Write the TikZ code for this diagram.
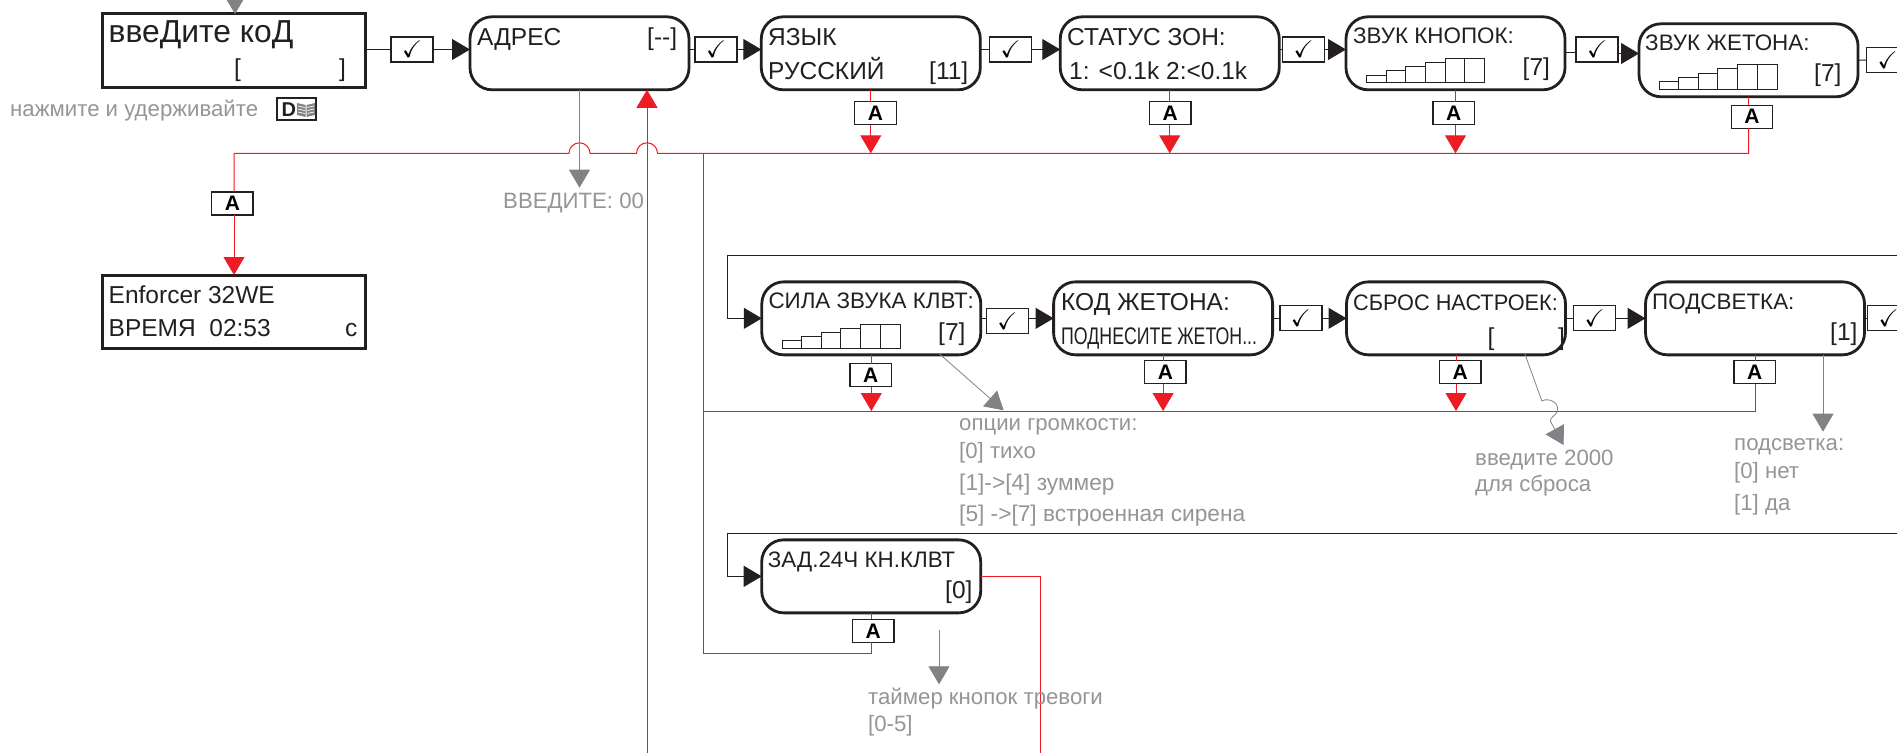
\documentclass[tikz,border=0pt]{standalone}
\usepackage{fontspec}
\usepackage{amssymb}
\setmainfont{Liberation Sans}
\newfontfamily\narrowfont[FakeStretch=0.74]{Liberation Sans}
\newfontfamily\slimfont[FakeStretch=0.97]{Liberation Sans}
\usetikzlibrary{arrows.meta}
\definecolor{ink}{HTML}{231F20}
\definecolor{alarm}{HTML}{ED1C24}
\definecolor{hint}{HTML}{939598}
\definecolor{hintline}{HTML}{808285}
\begin{document}
\begin{tikzpicture}[x=1pt, y=-1pt,
    panel/.style={draw=ink, line width=2.8pt, rounded corners=22pt, minimum width=219pt, minimum height=73pt, inner sep=0pt, outer sep=0pt},
    screen/.style={draw=ink, line width=3pt, minimum width=263pt, minimum height=73pt, inner sep=0pt, outer sep=0pt},
    okkey/.style={draw=ink, line width=1.4pt, fill=white, minimum width=42pt, minimum height=25pt, inner sep=0pt, outer sep=0pt, font=\fontsize{24}{24}\selectfont},
    akey/.style={draw=ink, line width=1.4pt, fill=white, minimum width=41.5pt, minimum height=23pt, inner sep=0pt, outer sep=0pt, font=\fontsize{21}{21}\selectfont\bfseries},
    lcd/.style={anchor=base west, inner sep=0pt, text=ink, font=\fontsize{24.5}{24.5}\selectfont},
    lcdsmall/.style={anchor=base west, inner sep=0pt, text=ink, font=\fontsize{22.4}{22.4}\selectfont},
    note/.style={anchor=base west, inner sep=0pt, text=hint, font=\fontsize{22.2}{22.2}\selectfont},
    flow/.style={draw=ink, line width=1pt},
    flowtip/.style={flow, -{Triangle[length=18pt,width=21pt,fill=ink]}},
    alarmline/.style={draw=alarm, line width=1pt},
    alarmtip/.style={alarmline, -{Triangle[length=18pt,width=21pt,fill=alarm]}},
    hinttip/.style={draw=hintline, line width=0.8pt, -{Triangle[length=18pt,width=21pt,fill=hintline]}},
    levelbars/.pic={
        \draw[ink, line width=0.8pt] (0,0) rectangle (19.6,-7.7);
        \draw[ink, line width=0.8pt] (19.6,0) rectangle (39.2,-12);
        \draw[ink, line width=0.8pt] (39.2,0) rectangle (58.8,-16.4);
        \draw[ink, line width=0.8pt] (58.8,0) rectangle (78.4,-20.4);
        \draw[ink, line width=0.8pt] (78.4,0) rectangle (98,-24.4);
        \draw[ink, line width=0.8pt] (98,0) rectangle (118,-24.4);
    }]
    \useasboundingbox (0,0) rectangle (1897,752);

    % Free ends
    \coordinate (entry) at (235,-30);
    \coordinate (busA) at (703.3,153.3);
    \coordinate (busB) at (703.3,411);
    \coordinate (busC) at (703.3,653);
    \coordinate (loopA) at (1897,255);
    \coordinate (loopB) at (727.5,255);
    \coordinate (loopC) at (1897,533.3);
    \coordinate (loopD) at (727.5,533.3);
    \coordinate (returnA) at (647,760);
    \coordinate (returnB) at (1040.7,760);
    \coordinate (hintTimer) at (939,630);
    \coordinate (hintReset) at (1524.7,353.5);
    \coordinate (hintVolume) at (939,353.5);
    \coordinate (hintLight) at (1823,354.7);

    % Top row
    \node[screen] (code) at (233.9,50.5) {};
    \node[panel] (adres) at (579.5,53.3) {};
    \node[panel] (yazyk) at (870.8,53.3) {};
    \node[panel] (status) at (1169.75,53.3) {};
    \node[panel] (knopok) at (1455.5,53.3) {};
    \node[panel] (zheton) at (1748.5,60.3) {};
    \node[screen] (enforcer) at (234,311.5) {};

    \node[okkey] (okA) at (412,49.5) {$\checkmark$};
    \node[okkey] (okB) at (716,49.5) {$\checkmark$};
    \node[okkey] (okC) at (1010.5,49.5) {$\checkmark$};
    \node[okkey] (okD) at (1303.7,49.5) {$\checkmark$};
    \node[okkey] (okE) at (1597,49.5) {$\checkmark$};
    \node[okkey] (okF) at (1887.5,60) {$\checkmark$};

    \node[akey] (aEnforcer) at (232.4,203.3) {A};
    \node[akey] (aYazyk) at (875.5,113) {A};
    \node[akey] (aStatus) at (1170.2,113) {A};
    \node[akey] (aKnopok) at (1453.7,113) {A};
    \node[akey] (aZheton) at (1752,116.7) {A};

    % Middle row
    \node[panel] (klvt) at (871.3,318.35) {};
    \node[panel] (kod) at (1163.1,318.35) {};
    \node[panel] (sbros) at (1456,318.35) {};
    \node[panel] (light) at (1755,318.35) {};

    \node[okkey] (okG) at (1007.3,320.8) {$\checkmark$};
    \node[okkey] (okH) at (1300.8,318.2) {$\checkmark$};
    \node[okkey] (okI) at (1594.7,318.2) {$\checkmark$};
    \node[okkey] (okJ) at (1888.5,318.2) {$\checkmark$};

    \node[akey] (aKlvt) at (870.8,375.2) {A};
    \node[akey] (aKod) at (1165.4,372.2) {A};
    \node[akey] (aSbros) at (1460.2,372.2) {A};
    \node[akey] (aLight) at (1754.6,372.2) {A};

    % Bottom row
    \node[panel] (zad) at (871.2,576.35) {};
    \node[akey] (aZad) at (873.2,630.8) {A};

    % Black connectors
    \draw[hinttip] (entry) -- (code.north -| entry);
    \draw[flow] (code.east |- okA) -- (okA.west);
    \draw[flowtip] (okA.east) -- (okA.east -| adres.west);
    \draw[flow] (adres.east |- okB) -- (okB.west);
    \draw[flowtip] (okB.east) -- (okB.east -| yazyk.west);
    \draw[flow] (yazyk.east |- okC) -- (okC.west);
    \draw[flowtip] (okC.east) -- (okC.east -| status.west);
    \draw[flow] (status.east |- okD) -- (okD.west);
    \draw[flowtip] (okD.east) -- (okD.east -| knopok.west);
    \draw[flow] ([yshift=-3.2pt]knopok.east |- okE) -- ([yshift=-3.2pt]okE.west);
    \draw[flowtip] ([yshift=-4pt]okE.east) -- ([yshift=-4pt]okE.east -| zheton.west);
    \draw[flow] (zheton.east) -- (okF.west);

    \draw[flowtip] (loopA) -- (loopB) |- (klvt.west);
    \draw[flow] (klvt.east) -- (klvt.east -| okG.west);
    \draw[flowtip] (klvt.east -| okG.east) -- (kod.west);
    \draw[flow] (kod.east) -- (kod.east -| okH.west);
    \draw[flowtip] (kod.east -| okH.east) -- (sbros.west);
    \draw[flow] (sbros.east) -- (sbros.east -| okI.west);
    \draw[flowtip] (sbros.east -| okI.east) -- (light.west);
    \draw[flow] (light.east) -- (light.east -| okJ.west);
    \draw[flowtip] (loopC) -- (loopD) |- (zad.west);

    % Red connectors
    \draw[alarmline] (zad.east) -- (zad.east -| returnB) -- (returnB);
    \draw[alarmline] (zad.south) -- (zad.south |- aZad.north);
    \draw[alarmline] (zad.south |- aZad.south) -- (zad.south |- busC) -- (busC) -- (busA);
    \draw[alarmline] (light.south) -- (light.south |- aLight.north);
    \draw[alarmline] (light.south |- aLight.south) -- (light.south |- busB) -- (busB);
    \draw[alarmtip] (returnA) -- (returnA |- adres.south);
    \draw[alarmline] (zheton.south) -- (zheton.south |- aZheton.north);
    \draw[alarmline] (zheton.south |- aZheton.south) -- (zheton.south |- busA) -- (657.5,153.3) arc[start angle=0, end angle=-180, radius=10.5] -- (590,153.3) arc[start angle=0, end angle=-180, radius=10.5] -- (enforcer.north |- busA) -- (enforcer.north |- aEnforcer.north);
    \draw[alarmtip] (enforcer.north |- aEnforcer.south) -- (enforcer.north);

    \draw[alarmline] (yazyk.south) -- (yazyk.south |- aYazyk.north);
    \draw[alarmtip] (yazyk.south |- aYazyk.south) -- (yazyk.south |- busA);
    \draw[alarmline] (status.south) -- (status.south |- aStatus.north);
    \draw[alarmtip] (status.south |- aStatus.south) -- (status.south |- busA);
    \draw[alarmline] (knopok.south) -- (knopok.south |- aKnopok.north);
    \draw[alarmtip] (knopok.south |- aKnopok.south) -- (knopok.south |- busA);

    \draw[alarmline] (klvt.south) -- (klvt.south |- aKlvt.north);
    \draw[alarmtip] (klvt.south |- aKlvt.south) -- (klvt.south |- busB);
    \draw[alarmline] (kod.south) -- (kod.south |- aKod.north);
    \draw[alarmtip] (kod.south |- aKod.south) -- (kod.south |- busB);
    \draw[alarmline] (sbros.south) -- (sbros.south |- aSbros.north);
    \draw[alarmtip] (sbros.south |- aSbros.south) -- (sbros.south |- busB);

    % Grey hints
    \draw[hinttip] (adres.south) -- (579.5,187.7);
    \draw[hinttip] (hintVolume) -- (1003.6,410.3);
    \draw[hinttip] (hintLight) -- (1823,431.7);
    \draw[hinttip] (hintTimer) -- (939,684.3);
    \draw[hinttip] (hintReset) -- (1541.8,400.7) .. controls (1552,397) and (1560,405) .. (1557,412) .. controls (1555,416) and (1549,418) .. (1550.6,421.7) -- (1563.5,445);

    % Level bars
    \pic at (1366.6,82.7) {levelbars};
    \pic at (1659,89.3) {levelbars};
    \pic at (782,348.3) {levelbars};

    % Texts of the panels
    \node[lcd, font=\fontsize{31.8}{31.8}\selectfont] (tCode) at (108.5,42.7) {ввеДите коД};
    \node[lcd] (tCodeL) at (234,77) {[};
    \node[lcd] (tCodeR) at (339,77) {]};
    \node[lcd] (tEnfA) at (108.5,303) {Enforcer 32WE};
    \node[lcd] (tEnfB) at (108.5,336.7) {ВРЕМЯ\ \ 02:53};
    \node[lcd] (tEnfC) at (345,336.7) {с};
    \node[lcd] (tAdres) at (477,45.7) {АДРЕС};
    \node[lcd] (tAdresV) at (647,45.7) {[-{}-]};
    \node[lcd] (tYazyk) at (768,45.7) {ЯЗЫК};
    \node[lcd] (tRus) at (768,80) {РУССКИЙ};
    \node[lcd] (tRusV) at (929,80) {[11]};
    \node[lcd] (tStatus) at (1067,45.7) {СТАТУС ЗОН:};
    \node[lcd] (tStatusV) at (1069,80) {1: <0.1k 2:<0.1k};
    \node[lcdsmall] (tKnopok) at (1353,43.3) {ЗВУК КНОПОК:};
    \node[lcd] (tKnopokV) at (1522.5,75) {[7]};
    \node[lcdsmall] (tZheton) at (1645,50.7) {ЗВУК ЖЕТОНА:};
    \node[lcd] (tZhetonV) at (1814,81.5) {[7]};
    \node[lcdsmall] (tKlvt) at (768.3,308.3) {СИЛА ЗВУКА КЛВТ:};
    \node[lcd] (tKlvtV) at (938,340.5) {[7]};
    \node[lcd] (tKod) at (1061,310.7) {КОД ЖЕТОНА:};
    \node[lcd, font=\narrowfont\fontsize{24}{24}\selectfont] (tKodV) at (1061,344) {ПОДНЕСИТЕ ЖЕТОН...};
    \node[lcd, font=\fontsize{22.4}{22.4}\selectfont\slimfont] (tSbros) at (1353,310) {СБРОС НАСТРОЕК:};
    \node[lcd] (tSbrosL) at (1487.4,345) {[};
    \node[lcd] (tSbrosR) at (1558,345) {]};
    \node[lcdsmall] (tLight) at (1652,309) {ПОДСВЕТКА:};
    \node[lcd] (tLightV) at (1830,340.5) {[1]};
    \node[lcdsmall] (tZad) at (767.7,567.3) {ЗАД.24Ч КН.КЛВТ};
    \node[lcd] (tZadV) at (945,598) {[0]};

    % Grey notes
    \node[note] (nHold) at (10,116.7) {нажмите и удерживайте};
    \node[note] (nEnter) at (503,208) {ВВЕДИТЕ: 00};
    \node[note] (nVolA) at (959,430.7) {опции громкости:};
    \node[note] (nVolB) at (959,458.3) {[0] тихо};
    \node[note, font=\fontsize{22.7}{22.7}\selectfont] (nVolC) at (959,490) {[1]->[4] зуммер};
    \node[note, font=\fontsize{22.7}{22.7}\selectfont] (nVolD) at (959,521.7) {[5] ->[7] встроенная сирена};
    \node[note] (nResetA) at (1475,465) {введите 2000};
    \node[note] (nResetB) at (1475,491.7) {для сброса};
    \node[note] (nLightA) at (1734,450.7) {подсветка:};
    \node[note] (nLightB) at (1734,478) {[0] нет};
    \node[note] (nLightC) at (1734,510) {[1] да};
    \node[note] (nTimerA) at (868,704) {таймер кнопок тревоги};
    \node[note] (nTimerB) at (868,731.7) {[0-5]};

    % Hold key
    \node[draw=ink, line width=1.8pt, minimum width=39pt, minimum height=22.5pt, inner sep=0pt, outer sep=0pt] (keyD) at (296.8,109) {};
    \node[anchor=base west, inner sep=0pt, text=ink, font=\fontsize{20}{20}\selectfont\bfseries] (tKeyD) at (281.5,116.3) {D};
    \fill[hintline] (297,103) -- (305.7,105) -- (305.7,117) -- (297,115) -- cycle;
    \fill[hintline] (315,103) -- (306.5,105) -- (306.5,117) -- (315,115) -- cycle;
    \draw[white, line width=0.7pt] (298,106) -- (304.7,107.5) (298,109) -- (304.7,110.5) (298,112) -- (304.7,113.5);
    \draw[white, line width=0.7pt] (314,106) -- (307.5,107.5) (314,109) -- (307.5,110.5) (314,112) -- (307.5,113.5);
\end{tikzpicture}
\end{document}
